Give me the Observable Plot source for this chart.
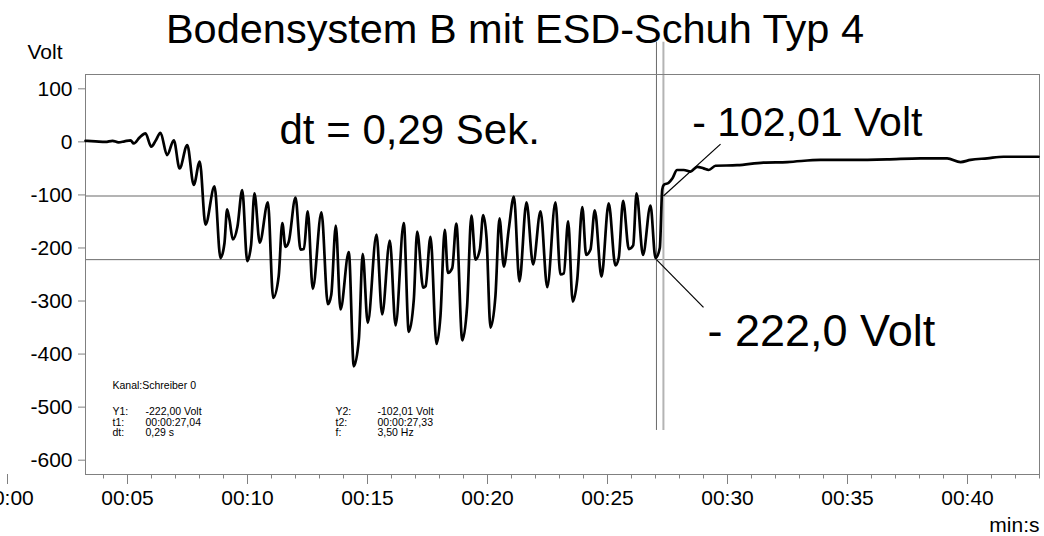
<!DOCTYPE html>
<html>
<head>
<meta charset="utf-8">
<script src="https://cdn.jsdelivr.net/npm/d3@7"></script>
<script src="https://cdn.jsdelivr.net/npm/@observablehq/plot@0.6"></script>
<style>
  html, body { margin: 0; padding: 0; background: #fff; }
</style>
</head>
<body>
<div id="chart"></div>
<script>
// ---- Data ----
const timeSec = [
  3.25, 3.67, 4.08, 4.375, 4.625, 4.875, 5.125, 5.26, 5.5, 5.75, 5.99, 6.17, 6.375, 6.65, 6.93,
  7.17, 7.49, 7.76, 8.01, 8.25, 8.625, 8.875, 9.04, 9.15, 9.25, 9.39, 9.58, 9.78, 9.99, 10.15,
  10.29, 10.51, 10.85, 11.07, 11.3, 11.45, 11.58, 11.72, 12.0, 12.21, 12.35, 12.51, 12.72, 13.08,
  13.35, 13.49, 13.68, 13.875, 14.22, 14.43, 14.64, 14.8, 15.01, 15.375, 15.61, 15.93, 16.17,
  16.51, 16.72, 16.93, 17.07, 17.32, 17.42, 17.625, 17.875, 18.04, 18.22, 18.35, 18.53, 18.7,
  18.95, 19.15, 19.33, 19.5, 19.68, 19.82, 19.96, 20.125, 20.33, 20.5, 20.68, 20.89, 21.1, 21.33,
  21.625, 21.9, 22.21, 22.49, 22.83, 23.04, 23.18, 23.36, 23.55, 23.74, 23.95, 24.11, 24.29,
  24.47, 24.75, 25.05, 25.33, 25.47, 25.65, 25.89, 26.07, 26.21, 26.48, 26.79, 27.0, 27.18,
  27.28, 27.35, 27.55, 27.7, 27.9, 28.18, 28.46, 28.74, 29.0, 29.22, 29.5, 30.4, 31.5, 32.49,
  33.875, 35.26, 36.65, 38.04, 39.15, 39.71, 40.125, 40.82, 41.5, 42.96
];
const volts = [
  2, 1, 0, 2, -1, 1, 3, -3, 8, 16, -9, 2, 17, -25, 3,
  -50, -6, -81, -37, -156, -84, -219, -191, -127, -147, -184, -160, -91, -225, -194,
  -97, -190, -114, -294, -253, -153, -198, -188, -105, -203, -202, -131, -277, -133,
  -306, -288, -158, -316, -208, -423, -372, -211, -341, -175, -325, -186, -346,
  -153, -358, -297, -169, -275, -272, -179, -381, -328, -166, -247, -238, -154,
  -374, -310, -139, -222, -203, -138, -181, -350, -291, -144, -235, -163, -103, -263,
  -114, -231, -131, -274, -114, -250, -248, -150, -301, -259, -123, -213, -203,
  -129, -254, -116, -233, -218, -111, -202, -195, -97, -213, -120, -219, -200,
  -90, -81, -77, -69, -53, -53, -56, -47, -50, -53, -45, -44, -39, -38,
  -34, -34, -33, -31, -31, -38, -34, -31, -28, -28
];
const yTicks = [100, 0, -100, -200, -300, -400, -500, -600];
const xMajorTicks = [0, 5, 10, 15, 20, 25, 30, 35, 40];
const xMinorTicks = [4, 6, 7, 8, 9, 11, 12, 13, 14, 16, 17, 18, 19, 21, 22, 23, 24, 26, 27, 28, 29,
  31, 32, 33, 34, 36, 37, 38, 39, 41, 42, 43];
const cursorT = [27.04, 27.33];        // t1, t2 (s)
const cursorV = [-222.00, -102.01];    // Y1, Y2 (Volt)

const titleText = "Bodensystem B mit ESD-Schuh Typ 4";
const dtText = "dt = 0,29 Sek.";
const y2Text = "- 102,01 Volt";
const y1Text = "- 222,0 Volt";
const infoHeader = "Kanal:Schreiber 0";
const infoLeftLabels = ["Y1:", "t1:", "dt:"];
const infoLeftValues = ["-222,00 Volt", "00:00:27,04", "0,29 s"];
const infoRightLabels = ["Y2:", "t2:", "f:"];
const infoRightValues = ["-102,01 Volt", "00:00:27,33", "3,50 Hz"];

// ---- Build ----
const series = timeSec.map((t, i) => ({t, v: volts[i]}));
const fmt = t => "00:" + String(t).padStart(2, "0");
const FONT = "'Liberation Sans', Arial, Helvetica, sans-serif";
const infoLineDy = [333.5, 343.8, 354];
const INFO_FS = 10.5;

const infoMarks = [];
infoMarks.push(Plot.text([infoHeader], {text: d => d, frameAnchor: "top-left", dx: 27, dy: 307, textAnchor: "start", fontSize: INFO_FS}));
[[infoLeftLabels, 27], [infoLeftValues, 60], [infoRightLabels, 250], [infoRightValues, 292]].forEach(([arr, dx]) => {
  arr.forEach((s, i) => {
    infoMarks.push(Plot.text([s], {text: d => d, frameAnchor: "top-left", dx, dy: infoLineDy[i], textAnchor: "start", fontSize: INFO_FS}));
  });
});

const chart = Plot.plot({
  width: 1044,
  height: 536,
  marginLeft: 85,
  marginRight: 5,
  marginTop: 74,
  marginBottom: 62,
  style: {fontFamily: FONT, background: "white", color: "black", overflow: "visible"},
  x: {domain: [3.25, 43]},
  y: {domain: [-627, 127]},
  marks: [
    // cursor lines
    Plot.ruleY([cursorV[1]], {stroke: "#b4b4b4", strokeWidth: 2}),
    Plot.ruleY([cursorV[0]], {stroke: "#6a6a6a", strokeWidth: 1}),
    Plot.ruleX([cursorT[0]], {y1: 188, y2: -544, stroke: "#6a6a6a", strokeWidth: 1}),
    Plot.ruleX([cursorT[1]], {y1: 188, y2: -544, stroke: "#b4b4b4", strokeWidth: 2}),
    Plot.frame({stroke: "#808080", strokeWidth: 1}),
    // axes
    Plot.axisY({ticks: yTicks, tickSize: 7, tickPadding: 6, tickFormat: d => String(d), fontSize: 21, stroke: "#808080", label: null}),
    Plot.axisX({ticks: xMinorTicks, tickSize: 4.5, tickFormat: () => "", stroke: "#808080", label: null}),
    Plot.axisX({ticks: xMajorTicks, tickSize: 10, tickPadding: 6, tickFormat: fmt, fontSize: 21, stroke: "#808080", label: null}),
    // signal
    Plot.line(series, {x: "t", y: "v", stroke: "black", strokeWidth: 2.7, curve: "monotone-x"}),
    // leader lines
    Plot.link([0], {x1: cursorT[1], y1: cursorV[1], x2: 29.71, y2: -4.3, stroke: "black", strokeWidth: 1.2}),
    Plot.link([0], {x1: cursorT[0], y1: cursorV[0], x2: 29.0, y2: -312, stroke: "black", strokeWidth: 1.2}),
    // texts
    Plot.text([titleText], {text: d => d, frameAnchor: "top-left", dx: 429.5, dy: -32, textAnchor: "middle", lineAnchor: "bottom", fontSize: 41.5}),
    Plot.text(["Volt"], {text: d => d, frameAnchor: "top-left", dx: -58, dy: -16, textAnchor: "start", lineAnchor: "bottom", fontSize: 21}),
    Plot.text(["min:s"], {text: d => d, frameAnchor: "bottom-right", dx: 0, dy: 57, textAnchor: "end", lineAnchor: "bottom", fontSize: 21}),
    Plot.text([dtText], {text: d => d, frameAnchor: "top-left", dx: 194, dy: 69, textAnchor: "start", lineAnchor: "bottom", fontSize: 42}),
    Plot.text([y2Text], {text: d => d, frameAnchor: "top-left", dx: 606.7, dy: 61, textAnchor: "start", lineAnchor: "bottom", fontSize: 41}),
    Plot.text([y1Text], {text: d => d, frameAnchor: "top-left", dx: 622, dy: 271, textAnchor: "start", lineAnchor: "bottom", fontSize: 45}),
    ...infoMarks
  ]
});
document.getElementById("chart").appendChild(chart);
</script>
</body>
</html>
